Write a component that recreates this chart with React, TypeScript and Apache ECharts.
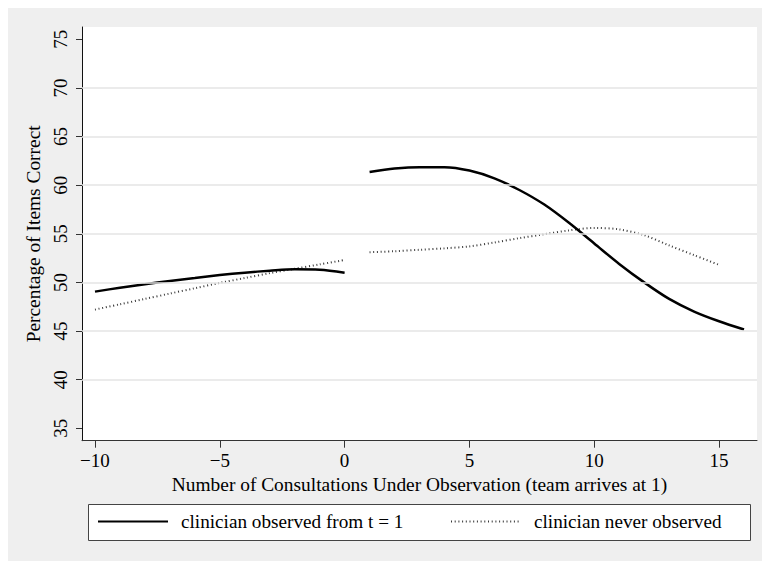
import React, { useEffect, useRef } from "react";
import * as echarts from "echarts";

// Observed clinician (solid), before and after team arrival
const xPre = [-10, -9, -8, -7, -6, -5, -4, -3, -2, -1, 0];
const observedPre = [49.05, 49.45, 49.8, 50.15, 50.45, 50.75, 51.0, 51.2, 51.35, 51.3, 51.0];
const neverPre = [47.2, 47.75, 48.3, 48.85, 49.4, 49.95, 50.45, 50.95, 51.4, 51.85, 52.3];

const xPostObserved = [1, 2, 3, 4, 5, 6, 7, 8, 9, 10, 11, 12, 13, 14, 15, 16];
const observedPost = [61.35, 61.7, 61.85, 61.85, 61.5, 60.7, 59.5, 58.0, 56.1, 54.0, 51.9, 50.0, 48.3, 47.0, 46.0, 45.15];

const xPostNever = [1, 2, 3, 4, 5, 6, 7, 8, 9, 10, 11, 12, 13, 14, 15];
const neverPost = [53.1, 53.2, 53.35, 53.5, 53.7, 54.1, 54.55, 54.95, 55.35, 55.6, 55.45, 54.85, 53.8, 52.8, 51.8];

const xTicks = [-10, -5, 0, 5, 10, 15];
const yTicks = [35, 40, 45, 50, 55, 60, 65, 70, 75];
const gridValues = [40, 45, 50, 55, 60, 65, 70];

const NAME_OBS = "clinician observed from t = 1";
const NAME_NEV = "clinician never observed";
const X_TITLE = "Number of Consultations Under Observation (team arrives at 1)";
const Y_TITLE = "Percentage of Items Correct";

const FONT = '"Liberation Serif", "Times New Roman", serif';

const pair = (xs: number[], ys: number[]) => xs.map((x, i) => [x, ys[i]]);

export default function App() {
  const ref = useRef<HTMLDivElement>(null);
  useEffect(() => {
    document.body.style.overflow = "hidden";
    const chart = echarts.init(ref.current!, null, { renderer: "svg" });
    const solidStyle = { color: "#000", width: 2.5, type: "solid" as const };
    const dotStyle = { color: "#3a3a3a", width: 2, type: [1, 2.7] as any };
    const legendCommon = {
      top: 504,
      padding: 0,
      itemHeight: 12,
      selectedMode: false,
      itemStyle: { opacity: 0 },
    };
    chart.setOption({
      animation: false,
      backgroundColor: "#efefef",
      textStyle: { fontFamily: FONT },
      grid: {
        left: 74,
        top: 19,
        right: 5,
        bottom: 120.3,
        show: true,
        backgroundColor: "#ffffff",
        borderWidth: 0,
      },
      xAxis: {
        type: "value",
        min: -10.52,
        max: 16.52,
        name: X_TITLE,
        nameLocation: "middle",
        nameGap: 29,
        nameTextStyle: { fontFamily: FONT, fontSize: 19.4, color: "#000" },
        axisLine: { show: true, onZero: false, lineStyle: { color: "#333", width: 1 } },
        axisTick: { show: true, length: 7, customValues: xTicks, lineStyle: { color: "#333" } },
        axisLabel: {
          customValues: xTicks,
          fontFamily: FONT,
          fontSize: 19,
          color: "#000",
          margin: 10,
          formatter: (v: number) => String(v).replace("-", "\u2212"),
        },
        splitLine: { show: false },
      },
      yAxis: {
        type: "value",
        min: 33.72,
        max: 76.26,
        name: Y_TITLE,
        nameLocation: "middle",
        nameGap: 33,
        nameRotate: 90,
        nameTextStyle: { fontFamily: FONT, fontSize: 19.4, color: "#000" },
        axisLine: { show: true, onZero: false, lineStyle: { color: "#111", width: 1 } },
        axisTick: { show: true, length: 6, customValues: yTicks, lineStyle: { color: "#333" } },
        axisLabel: {
          customValues: yTicks,
          rotate: 90,
          fontFamily: FONT,
          fontSize: 19,
          color: "#000",
          margin: 12,
        },
        splitLine: { show: false },
      },
      legend: [
        {
          ...legendCommon,
          data: [NAME_OBS],
          left: 89,
          itemWidth: 70,
          textStyle: { fontFamily: FONT, fontSize: 19.2, color: "#000", padding: [0, 0, 0, 8] },
        },
        {
          ...legendCommon,
          data: [NAME_NEV],
          left: 442,
          itemWidth: 68,
          textStyle: { fontFamily: FONT, fontSize: 19.2, color: "#000", padding: [0, 0, 0, 10] },
        },
      ],
      graphic: [
        {
          type: "rect",
          z: 0,
          shape: { x: 80.5, y: 496.5, width: 662, height: 36 },
          style: { fill: "#ffffff", stroke: "#444", lineWidth: 1 },
        },
      ],
      series: [
        {
          name: "grid",
          type: "line",
          data: [],
          z: 1,
          symbol: "none",
          markLine: {
            silent: true,
            symbol: ["none", "none"],
            label: { show: false },
            lineStyle: { color: "#e4e4e4", width: 1.5, type: "solid" },
            data: gridValues.map((v) => ({ yAxis: v })),
          },
        },
        {
          name: NAME_OBS,
          type: "line",
          data: pair(xPre, observedPre),
          smooth: 0.3,
          symbol: "none",
          z: 3,
          lineStyle: solidStyle,
          itemStyle: { color: "#000" },
        },
        {
          name: NAME_OBS,
          type: "line",
          data: pair(xPostObserved, observedPost),
          smooth: 0.3,
          symbol: "none",
          z: 3,
          lineStyle: solidStyle,
          itemStyle: { color: "#000" },
        },
        {
          name: NAME_NEV,
          type: "line",
          data: pair(xPre, neverPre),
          smooth: 0.3,
          symbol: "none",
          z: 2,
          lineStyle: dotStyle,
          itemStyle: { color: "#3a3a3a" },
        },
        {
          name: NAME_NEV,
          type: "line",
          data: pair(xPostNever, neverPost),
          smooth: 0.3,
          symbol: "none",
          z: 2,
          lineStyle: dotStyle,
          itemStyle: { color: "#3a3a3a" },
        },
      ],
    });
    return () => chart.dispose();
  }, []);
  return (
    <div
      ref={ref}
      style={{ position: "absolute", left: 8, top: 8, width: 754, height: 553 }}
    />
  );
}
